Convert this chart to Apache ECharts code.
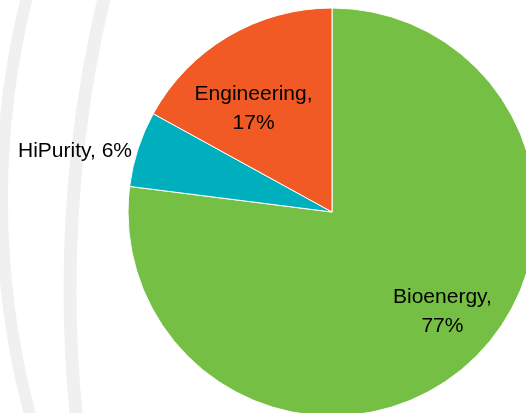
<!DOCTYPE html>
<html>
<head>
<meta charset="utf-8">
<script src="https://cdn.jsdelivr.net/npm/echarts@6/dist/echarts.min.js"></script>
<style>
html,body{margin:0;padding:0;background:#fff;}
#chart{width:526px;height:413px;}
</style>
</head>
<body>
<div id="chart"></div>
<script>
var categories = ['Bioenergy', 'HiPurity', 'Engineering'];
var shares = [77, 6, 17];
var colors = ['#75BF44', '#00AFBE', '#F15A24'];

var labelShift = {
  Bioenergy: [41, 21],
  Engineering: [-25, -13],
  HiPurity: [-6, 2]
};

var data = categories.map(function (name, i) {
  var item = { name: name, value: shares[i], itemStyle: { color: colors[i] } };
  if (name === 'HiPurity') {
    item.label = {
      position: 'outside',
      formatter: '{b}, {c}%',
      distanceToLabelLine: 0
    };
    item.labelLine = { show: false, length: 0, length2: 0 };
  } else {
    item.label = {
      position: 'inside',
      formatter: '{b},\n{c}%'
    };
  }
  return item;
});

var chart = echarts.init(document.getElementById('chart'), null, { renderer: 'canvas' });
chart.setOption({
  backgroundColor: '#ffffff',
  animation: false,
  graphic: [
    { type: 'circle', z: -10, silent: true, shape: { cx: 837, cy: 200, r: 835 },
      style: { fill: 'none', stroke: '#F0F0F0', lineWidth: 12 } },
    { type: 'circle', z: -10, silent: true, shape: { cx: 1330, cy: 290, r: 1260 },
      style: { fill: 'none', stroke: '#F0F0F0', lineWidth: 13 } }
  ],
  series: [{
    type: 'pie',
    center: [332, 212],
    radius: [0, 204],
    startAngle: 90,
    clockwise: true,
    avoidLabelOverlap: false,
    itemStyle: { borderColor: '#ffffff', borderWidth: 1 },
    label: {
      color: '#000000',
      fontFamily: 'Liberation Sans',
      fontSize: 21,
      lineHeight: 29,
      align: 'center'
    },
    labelLayout: function (params) {
      var s = labelShift[categories[params.dataIndex]] || [0, 0];
      return { dx: s[0], dy: s[1] };
    },
    data: data
  }]
});
</script>
</body>
</html>
